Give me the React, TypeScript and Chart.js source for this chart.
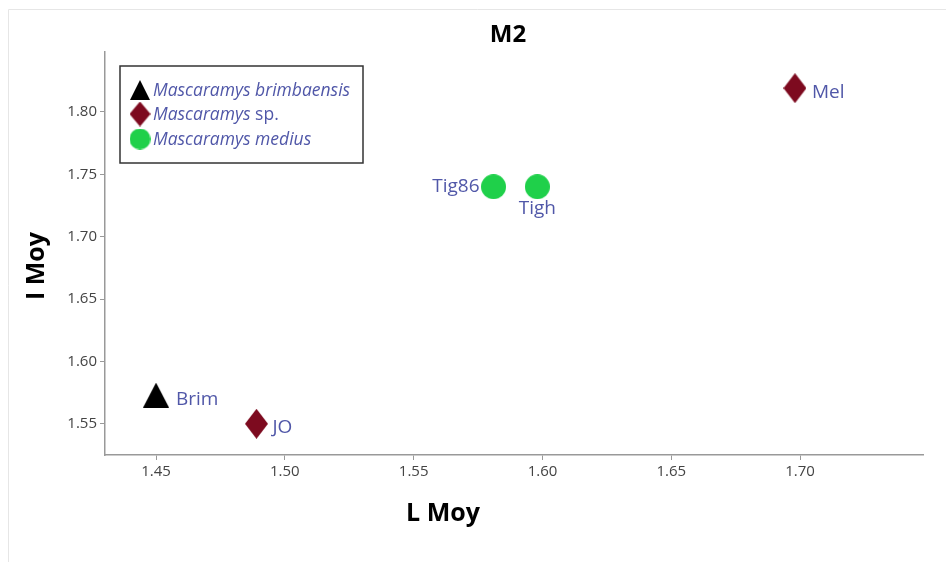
import React, { useEffect, useRef } from "react";
import { Chart, registerables } from "chart.js";

Chart.register(...registerables);

const chartTitle = "M2";
const xTitle = "L Moy";
const yTitle = "I Moy";
const seriesNames = ["Mascaramys brimbaensis", "Mascaramys sp.", "Mascaramys medius"];
const brimX = [1.45];
const brimY = [1.573];
const brimLabels = ["Brim"];
const spX = [1.489, 1.698];
const spY = [1.55, 1.819];
const spLabels = ["JO", "Mel"];
const mediusX = [1.581, 1.598];
const mediusY = [1.74, 1.74];
const mediusLabels = ["Tig86", "Tigh"];
const xTicks = [1.45, 1.5, 1.55, 1.6, 1.65, 1.7];
const yTicks = [1.55, 1.6, 1.65, 1.7, 1.75, 1.8];

const LABEL_COLOR = "#5057a8";
const TEXT_FONT = "'Open Sans', 'Noto Sans', sans-serif";
const COLORS = ["#000000", "#7d0a1f", "#1fd04a"];

function makeDiamond(w: number, h: number, color: string) {
  const c = document.createElement("canvas");
  c.width = w;
  c.height = h;
  const ctx = c.getContext("2d")!;
  ctx.fillStyle = color;
  ctx.beginPath();
  ctx.moveTo(w / 2, 0);
  ctx.lineTo(w, h / 2);
  ctx.lineTo(w / 2, h);
  ctx.lineTo(0, h / 2);
  ctx.closePath();
  ctx.fill();
  return c;
}
function makeTriangle(w: number, h: number, color: string) {
  const c = document.createElement("canvas");
  c.width = w;
  c.height = h;
  const ctx = c.getContext("2d")!;
  ctx.fillStyle = color;
  ctx.beginPath();
  ctx.moveTo(w / 2, 0);
  ctx.lineTo(w, h);
  ctx.lineTo(0, h);
  ctx.closePath();
  ctx.fill();
  return c;
}
function makeCircle(d: number, color: string) {
  const c = document.createElement("canvas");
  c.width = d;
  c.height = d;
  const ctx = c.getContext("2d")!;
  ctx.fillStyle = color;
  ctx.beginPath();
  ctx.arc(d / 2, d / 2, d / 2, 0, Math.PI * 2);
  ctx.fill();
  return c;
}

export default function App() {
  const ref = useRef<HTMLCanvasElement>(null);
  useEffect(() => {
    const canvas = ref.current!;
    const tri = makeTriangle(26, 25, COLORS[0]);
    const dia = makeDiamond(23, 30, COLORS[1]);
    const circ = makeCircle(25, COLORS[2]);
    const triS = makeTriangle(20, 20, COLORS[0]);
    const diaS = makeDiamond(21, 25, COLORS[1]);
    const circS = makeCircle(21, COLORS[2]);

    const placements: Record<string, [string, number, number]> = {
      Brim: ["left", 20, 4],
      JO: ["left", 16, 4],
      Mel: ["left", 17, 4],
      Tig86: ["right", -14, 0],
      Tigh: ["center", 0, 22],
    };
    const allLabels = [brimLabels, spLabels, mediusLabels];

    const decor = {
      id: "decor",
      beforeDraw(chart: any) {
        const ctx = chart.ctx;
        ctx.save();
        ctx.strokeStyle = "#e6e6e6";
        ctx.lineWidth = 1;
        ctx.beginPath();
        ctx.moveTo(8.5, 562);
        ctx.lineTo(8.5, 9.5);
        ctx.lineTo(946, 9.5);
        ctx.stroke();
        ctx.restore();
      },
      afterDraw(chart: any) {
        const ctx = chart.ctx;
        ctx.save();
        // title
        ctx.fillStyle = "#000";
        ctx.textAlign = "center";
        ctx.textBaseline = "middle";
        ctx.font = `bold 24px ${TEXT_FONT}`;
        ctx.fillText(chartTitle, 508, 35);
        // axis titles
        ctx.font = `bold 25px ${TEXT_FONT}`;
        ctx.fillText(xTitle, 443, 514);
        ctx.save();
        ctx.translate(37, 266);
        ctx.rotate(-Math.PI / 2);
        ctx.fillText(yTitle, 0, 0);
        ctx.restore();
        // point labels
        ctx.font = `19px ${TEXT_FONT}`;
        ctx.fillStyle = LABEL_COLOR;
        ctx.textBaseline = "middle";
        chart.data.datasets.forEach((ds: any, di: number) => {
          const meta = chart.getDatasetMeta(di);
          meta.data.forEach((el: any, i: number) => {
            const txt = allLabels[di][i];
            const p = placements[txt];
            ctx.textAlign = p[0];
            ctx.fillText(txt, el.x + p[1], el.y + p[2]);
          });
        });
        // legend
        ctx.strokeStyle = "#333";
        ctx.lineWidth = 1.5;
        ctx.strokeRect(120, 66, 243, 97);
        const markers = [triS, diaS, circS];
        const rows = [90, 114, 139];
        markers.forEach((m, i) => {
          ctx.drawImage(m, 140 - m.width / 2, rows[i] - m.height / 2);
        });
        ctx.textAlign = "left";
        ctx.fillStyle = LABEL_COLOR;
        const italic = `italic 17.5px ${TEXT_FONT}`;
        const normal = `17.5px ${TEXT_FONT}`;
        seriesNames.forEach((name, i) => {
          const y = rows[i] + 1;
          if (name.endsWith(" sp.")) {
            const base = name.slice(0, -4);
            ctx.font = italic;
            ctx.fillText(base, 153, y);
            const w = ctx.measureText(base + " ").width;
            ctx.font = normal;
            ctx.fillText("sp.", 153 + w, y);
          } else {
            ctx.font = italic;
            ctx.fillText(name, 153, y);
          }
        });
        ctx.restore();
      },
    };

    const mk = (xs: number[], ys: number[]) => xs.map((x, i) => ({ x, y: ys[i] }));
    const chart = new Chart(canvas, {
      type: "scatter",
      data: {
        datasets: [
          { label: seriesNames[0], data: mk(brimX, brimY), pointStyle: tri as any, backgroundColor: COLORS[0] },
          { label: seriesNames[1], data: mk(spX, spY), pointStyle: dia as any, backgroundColor: COLORS[1] },
          { label: seriesNames[2], data: mk(mediusX, mediusY), pointStyle: circ as any, backgroundColor: COLORS[2] },
        ],
      },
      options: {
        animation: false,
        responsive: false,
        layout: { padding: { top: 52, right: 23, left: 0, bottom: 0 } },
        plugins: { legend: { display: false }, tooltip: { enabled: false }, title: { display: false } },
        scales: {
          x: {
            type: "linear",
            min: 1.4302,
            max: 1.7477,
            afterBuildTicks: (s: any) => {
              s.ticks = xTicks.map((v) => ({ value: v }));
            },
            afterFit: (s: any) => {
              s.height = 107;
            },
            grid: { drawOnChartArea: false, tickLength: 5, color: "#999", tickWidth: 1 },
            border: { color: "#999", width: 1.5 },
            ticks: {
              color: "#444",
              font: { family: TEXT_FONT, size: 15 },
              padding: 3,
              callback: (v: any) => Number(v).toFixed(2),
            },
          },
          y: {
            type: "linear",
            min: 1.525,
            max: 1.848,
            afterBuildTicks: (s: any) => {
              s.ticks = yTicks.map((v) => ({ value: v }));
            },
            afterFit: (s: any) => {
              s.width = 105;
            },
            grid: { drawOnChartArea: false, tickLength: 5, color: "#999", tickWidth: 1 },
            border: { color: "#999", width: 1.5 },
            ticks: {
              color: "#444",
              font: { family: TEXT_FONT, size: 15 },
              padding: 3,
              callback: (v: any) => Number(v).toFixed(2),
            },
          },
        },
      },
      plugins: [decor],
    });
    return () => chart.destroy();
  }, []);
  return (
    <div style={{ position: "fixed", left: 0, top: 0, width: 946, height: 562, background: "#fff" }}>
      <canvas ref={ref} width={946} height={562} style={{ display: "block" }} />
    </div>
  );
}
